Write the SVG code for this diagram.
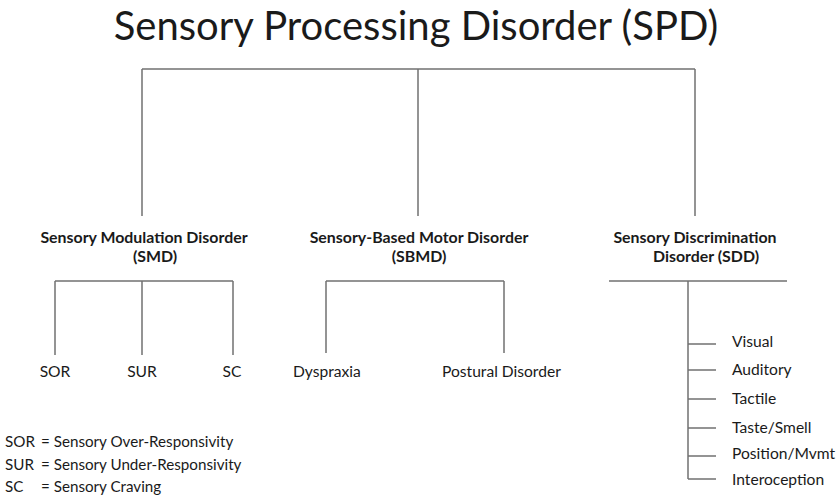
<svg xmlns="http://www.w3.org/2000/svg" width="840" height="500" viewBox="0 0 840 500">
<style>
text{font-family:Lato,"Open Sans","Liberation Sans",sans-serif;fill:#1a1a1a}
.t{font-size:40px}
.h{font-size:15.9px;font-weight:bold}
.l{font-size:15.6px}
.g{font-size:15.2px}
.c line{stroke:#707070;stroke-width:1.5;fill:none}
</style>
<rect width="840" height="500" fill="#fff"/>
<g id="spd"><text class="t" x="416" y="40" text-anchor="middle">Sensory Processing Disorder (SPD)</text></g>
<g id="smd"><text class="h" x="144" y="243" text-anchor="middle">Sensory Modulation Disorder</text><text class="h" x="155" y="262" text-anchor="middle">(SMD)</text></g>
<g id="sbmd"><text class="h" x="419" y="243" text-anchor="middle">Sensory-Based Motor Disorder</text><text class="h" x="419" y="262" text-anchor="middle">(SBMD)</text></g>
<g id="sdd"><text class="h" x="695" y="243" text-anchor="middle">Sensory Discrimination</text><text class="h" x="706" y="262" text-anchor="middle">Disorder (SDD)</text></g>
<g id="sor"><text class="l" x="55" y="377" text-anchor="middle">SOR</text></g>
<g id="sur"><text class="l" x="142" y="377" text-anchor="middle">SUR</text></g>
<g id="sc"><text class="l" x="232" y="377" text-anchor="middle">SC</text></g>
<g id="dyspraxia"><text class="l" x="293" y="377">Dyspraxia</text></g>
<g id="postural"><text class="l" x="442" y="377">Postural Disorder</text></g>
<g id="visual"><text class="l" x="732" y="347">Visual</text></g>
<g id="auditory"><text class="l" x="732" y="375">Auditory</text></g>
<g id="tactile"><text class="l" x="732" y="404">Tactile</text></g>
<g id="taste"><text class="l" x="732" y="433">Taste/Smell</text></g>
<g id="position"><text class="l" x="732" y="459">Position/Mvmt</text></g>
<g id="interoception"><text class="l" x="732" y="485">Interoception</text></g>
<g id="legend">
<text class="g" x="5" y="447">SOR</text><text class="g" x="41" y="447">= Sensory Over-Responsivity</text>
<text class="g" x="5" y="470">SUR</text><text class="g" x="41" y="470">= Sensory Under-Responsivity</text>
<text class="g" x="5" y="492">SC</text><text class="g" x="41" y="492">= Sensory Craving</text>
</g>
<g class="c" id="connectors">
<line x1="142" y1="69" x2="695" y2="69"/>
<line x1="142" y1="69" x2="142" y2="216"/>
<line x1="418" y1="69" x2="418" y2="216"/>
<line x1="695" y1="69" x2="695" y2="216"/>
<line x1="55" y1="281" x2="233" y2="281"/>
<line x1="55" y1="281" x2="55" y2="355"/>
<line x1="142" y1="281" x2="142" y2="355"/>
<line x1="233" y1="281" x2="233" y2="355"/>
<line x1="326" y1="281" x2="504" y2="281"/>
<line x1="326" y1="281" x2="326" y2="353"/>
<line x1="504" y1="281" x2="504" y2="353"/>
<line x1="609" y1="281" x2="787" y2="281"/>
<line x1="688" y1="281" x2="688" y2="479"/>
<line x1="688" y1="344" x2="716" y2="344"/>
<line x1="688" y1="370" x2="716" y2="370"/>
<line x1="688" y1="399" x2="716" y2="399"/>
<line x1="688" y1="428" x2="716" y2="428"/>
<line x1="688" y1="456" x2="716" y2="456"/>
<line x1="688" y1="479" x2="716" y2="479"/>
</g>
</svg>
